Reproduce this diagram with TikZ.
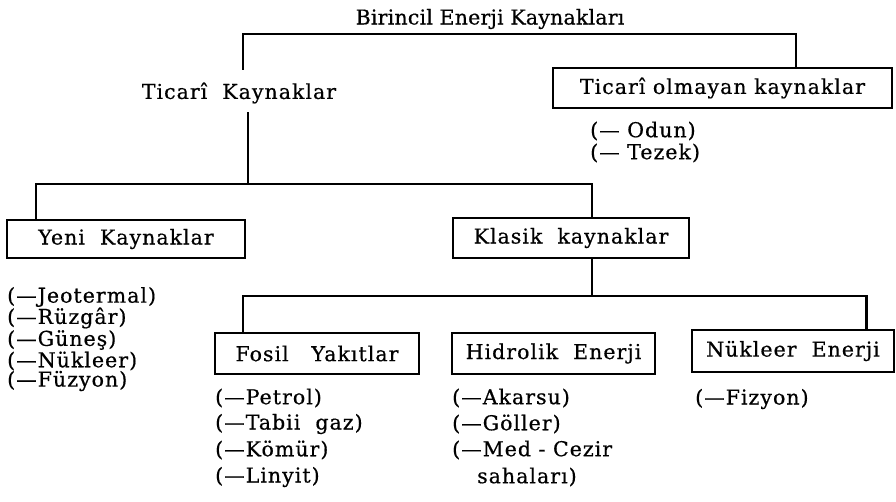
\documentclass[tikz,border=0pt]{standalone}
\usepackage{fontspec}
\setmainfont{DejaVu Serif}
\usetikzlibrary{calc}
\tikzset{
  conn/.style={line width=2.2pt, line cap=rect, line join=miter},
  box/.style={draw, line width=2pt, inner sep=0pt, font=\txt},
  lbl/.style={inner sep=0pt, font=\txt},
  item/.style={inner sep=0pt, anchor=west, font=\txt},
}
\newcommand{\txt}{\fontsize{20.5}{23}\selectfont\addfontfeature{LetterSpace=5,FakeBold=0.6}}
\newcommand{\ttl}{\fontsize{20.5}{23}\selectfont\addfontfeature{LetterSpace=1,FakeBold=0.6}}
\begin{document}
\begin{tikzpicture}[x=1pt, y=-1pt]
\useasboundingbox (0,0) rectangle (896,501);
% titles
\node[lbl, font=\ttl] (bir) at (490,19) {Birincil Enerji Kaynakları};
\node[lbl] (tic) at (239,93) {Ticarî\ \ Kaynaklar};
% boxes
\node[box, minimum width=339, minimum height=40] (tol) at (722.5,88) {Ticarî olmayan kaynaklar};
\node[box, minimum width=238, minimum height=38] (yeni) at (126,239) {Yeni\ \ Kaynaklar};
\node[box, minimum width=236, minimum height=40] (klasik) at (571,238) {Klasik\ \ kaynaklar};
\node[box, minimum width=204, minimum height=41] (fosil) at (317,353.5) {Fosil\ \ \ Yakıtlar};
\node[box, minimum width=203, minimum height=41] (hidro) at (553.5,353.5) {Hidrolik\ \ Enerji};
\node[box, minimum width=202, minimum height=42] (nuk) at (793,351) {Nükleer\ \ Enerji};
% items
\node[item] (od1) at (590,131) {(— Odun)};
\node[item] (od2) at (590,153) {(— Tezek)};
\node[item] (y1) at (7,297) {(—Jeotermal)};
\node[item] (y2) at (7,318) {(—Rüzgâr)};
\node[item] (y3) at (7,340) {(—Güneş)};
\node[item] (y4) at (7,361) {(—Nükleer)};
\node[item] (y5) at (7,381) {(—Füzyon)};
\node[item] (f1) at (215,398) {(—Petrol)};
\node[item] (f2) at (215,424) {(—Tabii\ \ gaz)};
\node[item] (f3) at (215,450) {(—Kömür)};
\node[item] (f4) at (215,477) {(—Linyit)};
\node[item] (h1) at (452,398) {(—Akarsu)};
\node[item] (h2) at (452,424) {(—Göller)};
\node[item] (h3) at (452,450) {(—Med - Cezir};
\node[item] (h4) at (477,477) {sahaları)};
\node[item] (n1) at (695,399) {(—Fizyon)};
% bars
\coordinate (topbar) at (0,34);
\coordinate (midbar) at (0,184);
\coordinate (lowbar) at (0,296);
\coordinate (tictop) at ([xshift=4pt, yshift=13pt]tic.north);
\coordinate (ticbot) at ([xshift=9pt, yshift=-9pt]tic.south);
\coordinate (tc) at ($(tol.north west)!0.716!(tol.north east)$);
\coordinate (yc) at ($(yeni.north west)!0.126!(yeni.north east)$);
\coordinate (kc) at ($(klasik.north west)!0.589!(klasik.north east)$);
\coordinate (kb) at ($(klasik.south west)!0.589!(klasik.south east)$);
\coordinate (fc) at ($(fosil.north west)!0.14!(fosil.north east)$);
\coordinate (nc) at ($(nuk.north west)!0.86!(nuk.north east)$);
\draw[conn] (tictop) -- (tictop |- topbar) -- (tc |- topbar) -- (tc);
\draw[conn] (ticbot) -- (ticbot |- midbar);
\draw[conn] (yc) -- (yc |- midbar) -- (kc |- midbar) -- (kc);
\draw[conn] (kb) -- (kb |- lowbar);
\draw[conn] (fc) -- (fc |- lowbar) -- (nc |- lowbar) -- (nc);
\end{tikzpicture}
\end{document}
